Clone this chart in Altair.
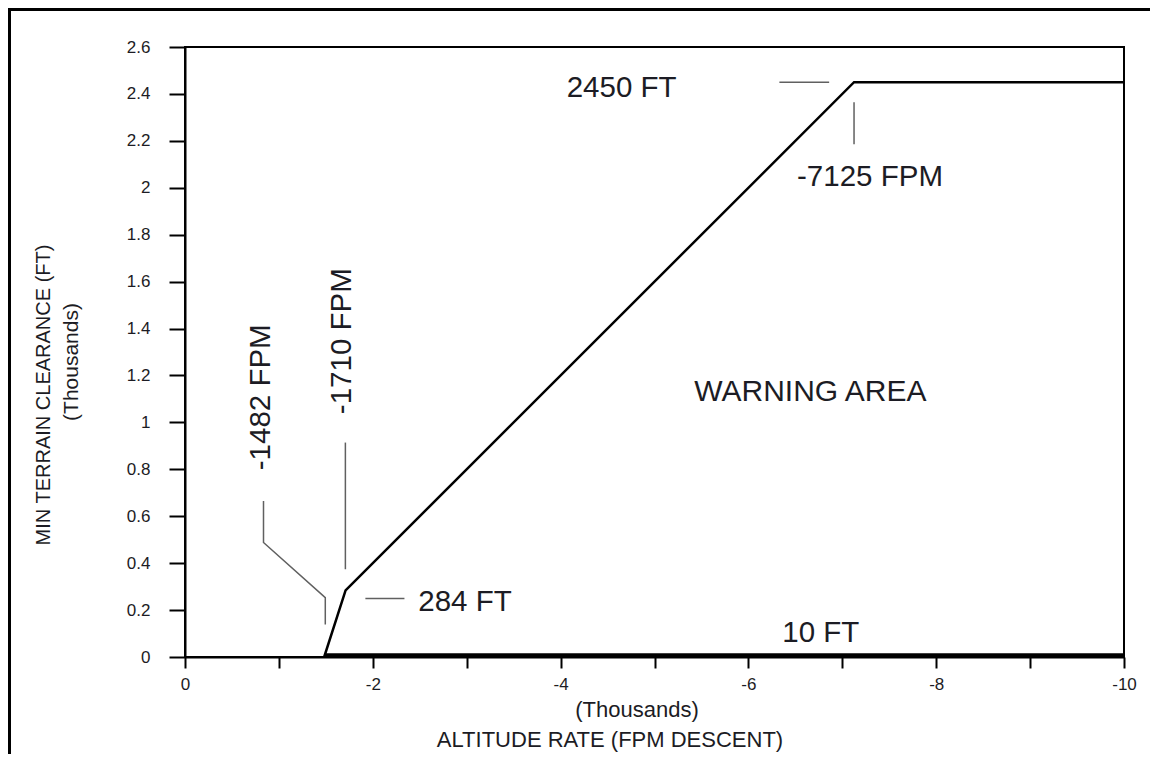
import altair as alt
import pandas as pd

# ---- data (thousands) ----
curve_x = [-1.482, -1.710, -7.125, -10.0]
curve_y = [0.0, 0.284, 2.450, 2.450]

floor_x = [-1.482, -10.0]
floor_y = [0.010, 0.010]

lead_2450_x = [-6.33, -6.86]
lead_2450_y = [2.45, 2.45]
lead_7125_x = [-7.125, -7.125]
lead_7125_y = [2.364, 2.185]
lead_1482_x = [-0.836, -0.836, -1.494, -1.494]
lead_1482_y = [0.665, 0.488, 0.253, 0.139]
lead_1710_x = [-1.708, -1.708]
lead_1710_y = [0.914, 0.374]
lead_284_x = [-1.921, -2.337]
lead_284_y = [0.249, 0.249]

h_text = ["2450 FT", "-7125 FPM", "284 FT", "10 FT"]
h_x = [-4.65, -7.295, -2.982, -6.771]
h_y = [2.432, 2.053, 0.2425, 0.111]

area_text = ["WARNING AREA"]
area_x = [-6.66]
area_y = [1.138]

v_text = ["-1482 FPM", "-1710 FPM"]
v_x = [-0.809, -1.672]
v_y = [1.107, 1.346]

x_ticks = [0, -1, -2, -3, -4, -5, -6, -7, -8, -9, -10]
y_ticks = [0, 0.2, 0.4, 0.6, 0.8, 1, 1.2, 1.4, 1.6, 1.8, 2, 2.2, 2.4, 2.6]

# ---- tables ----
curve_df = pd.DataFrame({"x": curve_x, "y": curve_y, "o": range(len(curve_x))})
floor_df = pd.DataFrame({"x": floor_x, "y": floor_y, "o": range(len(floor_x))})

leaders = [
    ("a", lead_2450_x, lead_2450_y),
    ("b", lead_7125_x, lead_7125_y),
    ("c", lead_1482_x, lead_1482_y),
    ("d", lead_1710_x, lead_1710_y),
    ("e", lead_284_x, lead_284_y),
]
rows = []
for g, xs_, ys_ in leaders:
    for i, (xx, yy) in enumerate(zip(xs_, ys_)):
        rows.append({"g": g, "x": xx, "y": yy, "o": i})
lead_df = pd.DataFrame(rows)

h_df = pd.DataFrame({"t": h_text, "x": h_x, "y": h_y})
area_df = pd.DataFrame({"t": area_text, "x": area_x, "y": area_y})
v_df = pd.DataFrame({"t": v_text, "x": v_x, "y": v_y})
one = pd.DataFrame({"k": [0]})

FONT = "Liberation Sans, Arial, sans-serif"
TXT = "#1c1c24"

xs = alt.Scale(domain=[0, -10], nice=False, zero=False)
ys = alt.Scale(domain=[0, 2.6], nice=False, zero=False)

x_axis = alt.Axis(
    values=x_ticks, title=None, grid=False,
    labelExpr="datum.value % 2 == 0 ? '' + datum.value : ''",
    tickSize=11, tickWidth=2, tickColor="black",
    domainColor="black", domainWidth=2,
    labelPadding=8, labelFlush=False, labelOverlap=False,
    labelFont=FONT, labelFontSize=17, labelColor=TXT,
)
y_axis = alt.Axis(
    values=y_ticks, title=None, grid=False, format="~g",
    tickSize=16, tickWidth=2, tickColor="black",
    domainColor="black", domainWidth=2,
    labelPadding=19, labelFlush=False, labelOverlap=False,
    labelFont=FONT, labelFontSize=17, labelColor=TXT,
)

X = lambda: alt.X("x:Q", scale=xs, axis=x_axis)
Y = lambda: alt.Y("y:Q", scale=ys, axis=y_axis)

curve = alt.Chart(curve_df).mark_line(color="black", strokeWidth=2.5).encode(
    x=X(), y=Y(), order="o:Q")
floor = alt.Chart(floor_df).mark_line(color="black", strokeWidth=2.6).encode(
    x=X(), y=Y(), order="o:Q")
leads = alt.Chart(lead_df).mark_line(color="#606060", strokeWidth=1.5).encode(
    x=X(), y=Y(), detail="g:N", order="o:Q")

h_lab = alt.Chart(h_df).mark_text(
    font=FONT, fontSize=29.5, color=TXT, align="center", baseline="middle", dy=2
).encode(x=X(), y=Y(), text="t:N")
area_lab = alt.Chart(area_df).mark_text(
    font=FONT, fontSize=30, color=TXT, align="center", baseline="middle", dy=2
).encode(x=X(), y=Y(), text="t:N")
v_lab = alt.Chart(v_df).mark_text(
    font=FONT, fontSize=29.5, color=TXT, align="center", baseline="middle", angle=270
).encode(x=X(), y=Y(), text="t:N")

# axis titles (pixel positions relative to plot area)
def title_text(txt, px, py, size, angle=0):
    kw = dict(text=txt, font=FONT, fontSize=size, color=TXT,
              align="center", baseline="middle")
    if angle:
        kw["angle"] = angle
    return alt.Chart(one).mark_text(**kw).encode(x=alt.value(px), y=alt.value(py))

yt1 = title_text("MIN TERRAIN CLEARANCE (FT)", -141, 348, 20, 270)
yt2 = title_text("(Thousands)", -113, 315, 21, 270)
xt1 = title_text("(Thousands)", 452, 663, 22)
xt2 = title_text("ALTITUDE RATE (FPM DESCENT)", 425, 693, 22)

# outer frame (left and top edges)
frame_left = alt.Chart(one).mark_rule(color="black", strokeWidth=3).encode(
    x=alt.value(-175.5), y=alt.value(-37.5), y2=alt.value(720))
frame_top = alt.Chart(one).mark_rule(color="black", strokeWidth=3).encode(
    x=alt.value(-177), x2=alt.value(980), y=alt.value(-37.5))

chart = alt.layer(
    leads, curve, floor, h_lab, area_lab, v_lab, yt1, yt2, xt1, xt2, frame_left, frame_top
).properties(
    width=939, height=610,
    autosize=alt.AutoSizeParams(type="none"),
    padding={"left": 177, "top": 39, "right": 26, "bottom": 97},
    background="white",
).configure_view(stroke="black", strokeWidth=2)

chart.save("out.html", embed_options={"renderer": "svg", "actions": False})
